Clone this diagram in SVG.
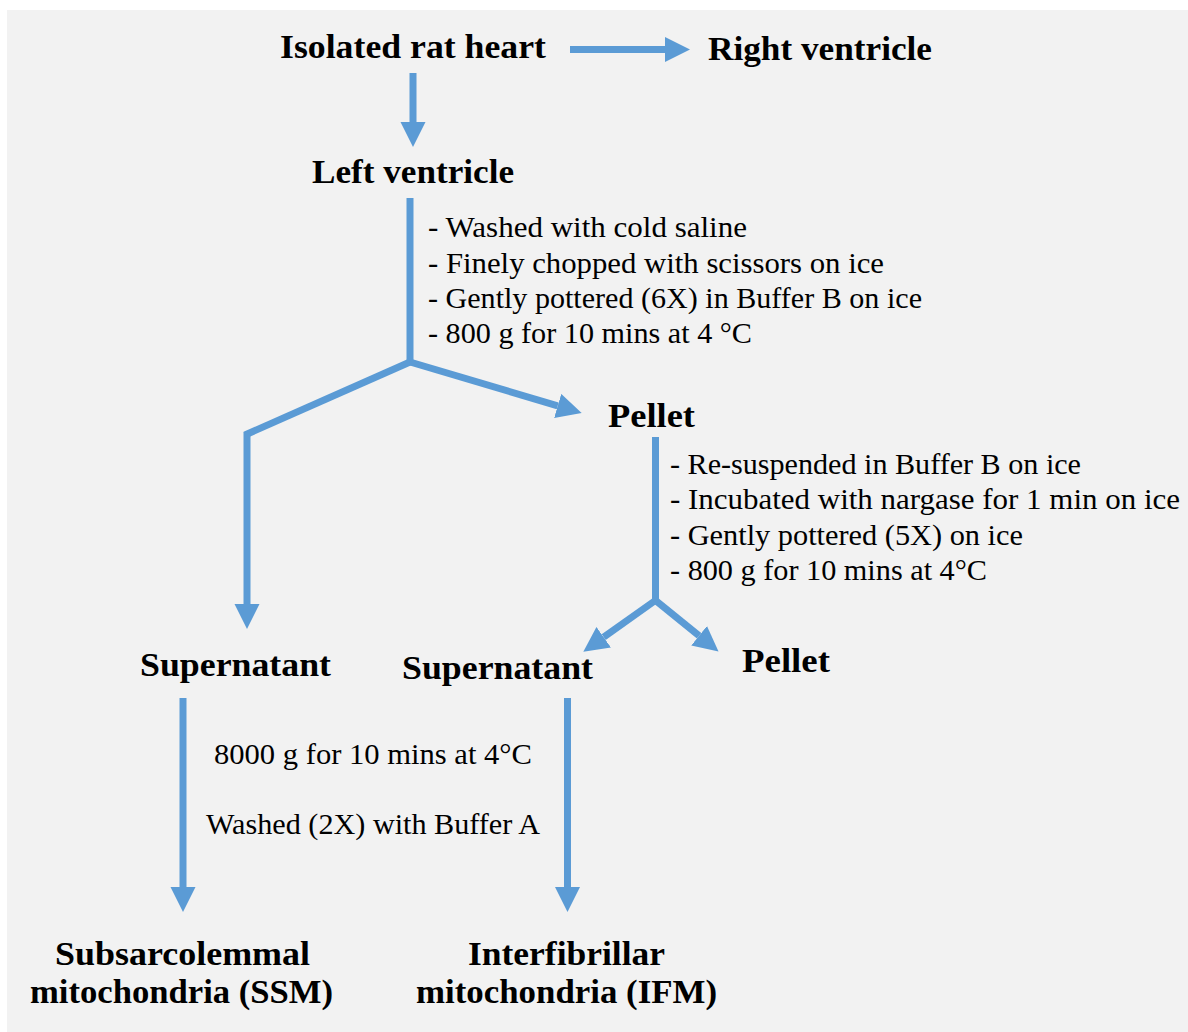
<svg xmlns="http://www.w3.org/2000/svg" width="1188" height="1032" viewBox="0 0 1188 1032">
  <defs>
    <marker id="head" markerUnits="userSpaceOnUse" markerWidth="26" markerHeight="26" refX="0" refY="12.5" orient="auto" viewBox="0 0 26 26">
      <path d="M0,0 L25,12.5 L0,25 z" fill="#5b9bd5"/>
    </marker>
    <style>
      .bg { fill: #f2f2f2; }
      .ln { stroke: #5b9bd5; stroke-width: 7; fill: none; stroke-linecap: butt; }
      .arr { marker-end: url(#head); }
      .node { font-family: "Liberation Serif", "Times New Roman", serif; font-weight: bold; font-size: 33px; fill: #000; }
      .note { font-family: "Liberation Serif", "Times New Roman", serif; font-size: 29px; fill: #000; }
    </style>
  </defs>

  <rect x="0" y="0" width="1188" height="1032" fill="#ffffff"/>
  <rect class="bg" x="7" y="10" width="1181" height="1022"/>

  <!-- connectors -->
  <g id="connectors">
    <line class="ln arr" x1="570" y1="49.5" x2="665" y2="49.5"/>
    <line class="ln arr" x1="413" y1="73" x2="413" y2="122"/>
    <line class="ln" x1="410" y1="198" x2="410" y2="362"/>
    <line class="ln" x1="410" y1="362" x2="245" y2="435"/>
    <line class="ln arr" x1="247" y1="432" x2="247" y2="604"/>
    <line class="ln arr" x1="410" y1="362" x2="557.7" y2="405.9"/>
    <line class="ln" x1="655.5" y1="437" x2="655.5" y2="601"/>
    <line class="ln arr" x1="656" y1="600" x2="603.7" y2="637.2"/>
    <line class="ln arr" x1="655" y1="600" x2="699.1" y2="635.7"/>
    <line class="ln arr" x1="183" y1="698" x2="183" y2="887"/>
    <line class="ln arr" x1="567.5" y1="698" x2="567.5" y2="887"/>
  </g>

  <g id="isolated-heart"><text class="node" x="280" y="58" textLength="266" lengthAdjust="spacingAndGlyphs">Isolated rat heart</text></g>
  <g id="right-ventricle"><text class="node" x="708" y="60" textLength="224" lengthAdjust="spacingAndGlyphs">Right ventricle</text></g>
  <g id="left-ventricle"><text class="node" x="312" y="183" textLength="202" lengthAdjust="spacingAndGlyphs">Left ventricle</text></g>

  <g id="step-1-notes">
    <text class="note" x="428" y="237" textLength="319" lengthAdjust="spacingAndGlyphs">- Washed with cold saline</text>
    <text class="note" x="428" y="273" textLength="456" lengthAdjust="spacingAndGlyphs">- Finely chopped with scissors on ice</text>
    <text class="note" x="428" y="308" textLength="494" lengthAdjust="spacingAndGlyphs">- Gently pottered (6X) in Buffer B on ice</text>
    <text class="note" x="428" y="343" textLength="324" lengthAdjust="spacingAndGlyphs">- 800 g for 10 mins at 4 °C</text>
  </g>

  <g id="pellet-1"><text class="node" x="608" y="427" textLength="87" lengthAdjust="spacingAndGlyphs">Pellet</text></g>

  <g id="step-2-notes">
    <text class="note" x="670" y="474" textLength="411" lengthAdjust="spacingAndGlyphs">- Re-suspended in Buffer B on ice</text>
    <text class="note" x="670" y="509" textLength="510" lengthAdjust="spacingAndGlyphs">- Incubated with nargase for 1 min on ice</text>
    <text class="note" x="670" y="545" textLength="353" lengthAdjust="spacingAndGlyphs">- Gently pottered (5X) on ice</text>
    <text class="note" x="670" y="580" textLength="317" lengthAdjust="spacingAndGlyphs">- 800 g for 10 mins at 4°C</text>
  </g>

  <g id="supernatant-1"><text class="node" x="140" y="676" textLength="191" lengthAdjust="spacingAndGlyphs">Supernatant</text></g>
  <g id="supernatant-2"><text class="node" x="402" y="679" textLength="191" lengthAdjust="spacingAndGlyphs">Supernatant</text></g>
  <g id="pellet-2"><text class="node" x="742" y="672" textLength="88" lengthAdjust="spacingAndGlyphs">Pellet</text></g>

  <g id="step-3-notes">
    <text class="note" x="214" y="764" textLength="318" lengthAdjust="spacingAndGlyphs">8000 g for 10 mins at 4°C</text>
    <text class="note" x="206" y="834" textLength="334" lengthAdjust="spacingAndGlyphs">Washed (2X) with Buffer A</text>
  </g>

  <g id="ssm">
    <text class="node" x="55" y="965" textLength="255" lengthAdjust="spacingAndGlyphs">Subsarcolemmal</text>
    <text class="node" x="30" y="1003" textLength="303" lengthAdjust="spacingAndGlyphs">mitochondria (SSM)</text>
  </g>
  <g id="ifm">
    <text class="node" x="468" y="965" textLength="197" lengthAdjust="spacingAndGlyphs">Interfibrillar</text>
    <text class="node" x="416" y="1003" textLength="301" lengthAdjust="spacingAndGlyphs">mitochondria (IFM)</text>
  </g>
</svg>
